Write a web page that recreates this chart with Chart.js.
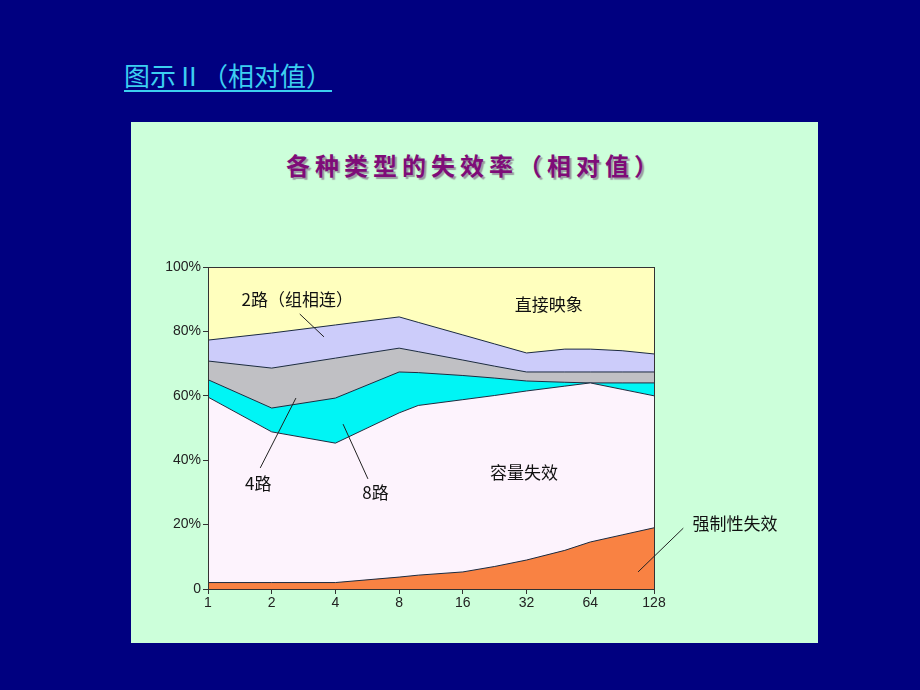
<!DOCTYPE html>
<html>
<head>
<meta charset="utf-8">
<script src="https://cdn.jsdelivr.net/npm/chart.js@4"></script>
<style>
    body { margin: 0; background: #000080; width: 920px; height: 690px; overflow: hidden; position: relative; font-family: "Noto Sans CJK SC", sans-serif; }
    .page-title { position: absolute; left: 124px; top: 56px; font-size: 26px; color: #3ccff0; text-decoration: underline; text-underline-offset: 4px; text-decoration-thickness: 2px; }
    .panel { position: absolute; left: 131px; top: 122px; width: 687px; height: 521px; background: #ccffda; }
    .panel-title { position: absolute; left: 0; right: 0; top: 25px; text-align: center; padding-left: 0; font-size: 24px; font-weight: bold; letter-spacing: 5px; color: #7e0c78; text-shadow: 2px 2px 1px #9a9aa0; }
    .panel canvas { position: absolute; left: 0; top: 0; }
</style>
</head>
<body>
<div class="page-title">图示Ⅱ（相对值）</div>
<div class="panel">
    <div class="panel-title">各种类型的失效率（相对值）</div>
    <canvas id="missChart" width="687" height="521"></canvas>
</div>
<script>
// Cache sizes (KB) on a log2 axis, points sit at log2 positions
const sizeLabels = ['1', '2', '4', '8', '16', '32', '64', '128'];
const xPos = [0, 1, 2, 3, 3.3, 4, 4.5, 5, 5.6, 6, 6.5, 7];

// Share of each miss type (%), stacked from bottom to top
const compulsory = [2, 2, 2, 3.7, 4.3, 5.3, 7, 9, 12, 14.6, 16.8, 19];
const capacity   = [57.6, 46.8, 43.3, 51, 52.7, 53.5, 53.1, 52.5, 51, 49.4, 45.2, 41];
const way8       = [5.4, 7.4, 14, 12.7, 10.2, 7.5, 5.4, 3.1, 1.2, 0, 2, 4];
const way4       = [5.8, 12.4, 12.4, 7.4, 6.5, 4.8, 3.7, 2.8, 3.2, 3.4, 3.4, 3.4];
const way2       = [6.5, 10.9, 10.3, 9.7, 9.1, 7.8, 6.9, 5.9, 7.1, 7.1, 6.6, 5.6];
const direct     = [22.7, 20.5, 18, 15.5, 17.2, 21.1, 23.9, 26.7, 25.5, 25.5, 26, 27];

const yTicks = [0, 20, 40, 60, 80, 100];

// Labels drawn on the chart, in axis units
const notes = [
    { text: '2路（组相连）', x: 1.40, y: 89.8, line: [1.44, 85.4, 1.82, 78.3] },
    { text: '直接映象', x: 5.35, y: 88.2 },
    { text: '4路', x: 0.79, y: 32.9, line: [0.82, 37.6, 1.38, 59.3] },
    { text: '8路', x: 2.63, y: 29.8, line: [2.51, 34.2, 2.12, 51.2] },
    { text: '容量失效', x: 4.96, y: 36.3 },
    { text: '强制性失效', x: 8.27, y: 20.2, line: [6.75, 5.3, 7.46, 18.9] }
];

const toPoints = arr => arr.map((v, i) => ({ x: xPos[i], y: v }));

const makeSet = (label, values, color, fill) => ({
    label: label,
    data: toPoints(values),
    backgroundColor: color,
    borderColor: '#1c2a40',
    borderWidth: 1,
    pointRadius: 0,
    fill: fill,
    tension: 0
});

// frame + annotations
const notesPlugin = {
    id: 'notes',
    afterDatasetsDraw(chart) {
        const { ctx, chartArea, scales } = chart;
        ctx.save();
        ctx.strokeStyle = '#333';
        ctx.lineWidth = 1;
        ctx.strokeRect(chartArea.left + 0.5, chartArea.top + 0.5, chartArea.right - chartArea.left, chartArea.bottom - chartArea.top);

        ctx.font = '17px "Noto Sans CJK SC"';
        ctx.fillStyle = '#111';
        ctx.textAlign = 'center';
        ctx.textBaseline = 'middle';
        notes.forEach(n => {
            ctx.fillText(n.text, scales.x.getPixelForValue(n.x), scales.y.getPixelForValue(n.y));
            if (n.line) {
                ctx.beginPath();
                ctx.strokeStyle = '#222';
                ctx.moveTo(scales.x.getPixelForValue(n.line[0]), scales.y.getPixelForValue(n.line[1]));
                ctx.lineTo(scales.x.getPixelForValue(n.line[2]), scales.y.getPixelForValue(n.line[3]));
                ctx.stroke();
            }
        });
        ctx.restore();
    }
};

const ctx = document.getElementById('missChart');
new Chart(ctx, {
    type: 'line',
    data: {
        datasets: [
            makeSet('强制性失效', compulsory, '#f98243', 'origin'),
            makeSet('容量失效', capacity, '#fdf3fd', '-1'),
            makeSet('8路', way8, '#00f5f5', '-1'),
            makeSet('4路', way4, '#c0c0c4', '-1'),
            makeSet('2路（组相连）', way2, '#ccccfa', '-1'),
            makeSet('直接映象', direct, '#ffffbe', '-1')
        ]
    },
    options: {
        responsive: false,
        animation: false,
        layout: {
            padding: { left: 27, top: 145, right: 164, bottom: 24 }
        },
        plugins: {
            legend: { display: false },
            tooltip: { enabled: false }
        },
        scales: {
            x: {
                type: 'linear',
                min: 0,
                max: 7,
                afterFit: scale => { scale.height = 30; },
                afterBuildTicks: scale => {
                    scale.ticks = sizeLabels.map((s, i) => ({ value: i }));
                },
                ticks: {
                    callback: value => sizeLabels[value],
                    color: '#222',
                    font: { family: 'Liberation Sans', size: 14 },
                    padding: 1,
                    maxRotation: 0
                },
                grid: { drawOnChartArea: false, tickLength: 5, color: '#333' },
                border: { color: '#333' }
            },
            y: {
                stacked: true,
                min: 0,
                max: 100,
                afterFit: scale => { scale.width = 50; },
                afterBuildTicks: scale => {
                    scale.ticks = yTicks.map(v => ({ value: v }));
                },
                ticks: {
                    callback: value => value === 0 ? '0' : value + '%',
                    color: '#222',
                    font: { family: 'Liberation Sans', size: 14 },
                    padding: 2
                },
                grid: { drawOnChartArea: false, tickLength: 5, color: '#333' },
                border: { color: '#333' }
            }
        }
    },
    plugins: [notesPlugin]
});
</script>
</body>
</html>
